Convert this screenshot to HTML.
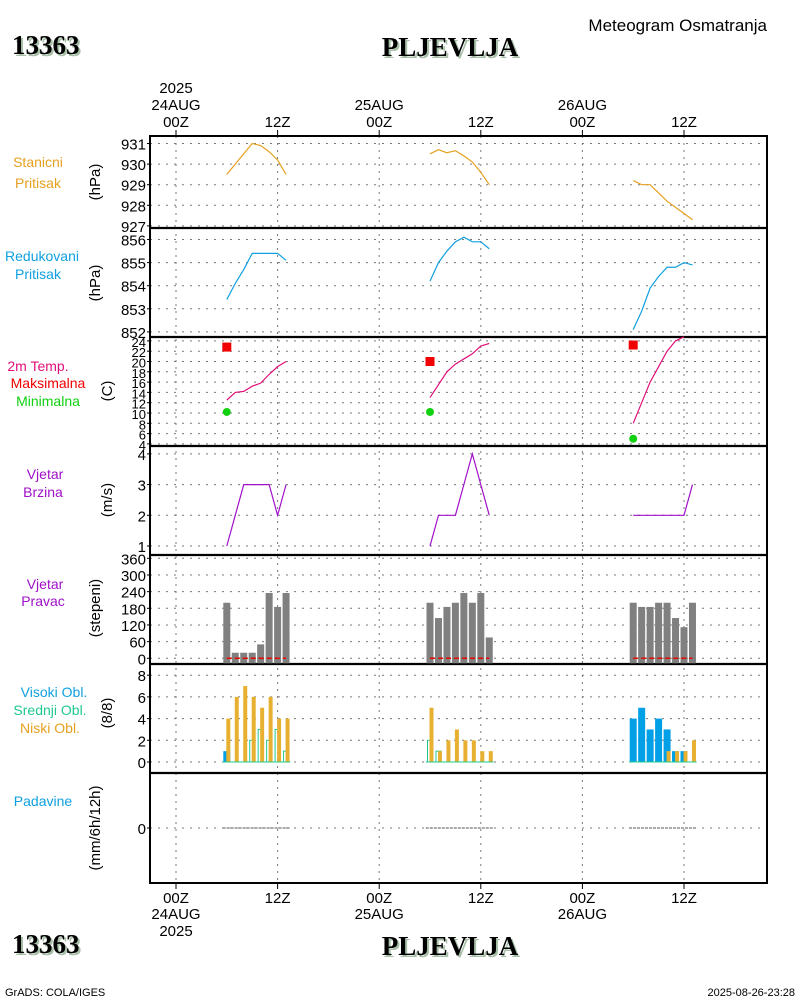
<!DOCTYPE html>
<html><head><meta charset="utf-8"><style>
body{margin:0;background:#fff}
svg{display:block}
text{font-family:"Liberation Sans",sans-serif}
text.serif{font-family:"Liberation Serif",serif}
</style></head><body>
<svg id="c" width="800" height="1000" xmlns="http://www.w3.org/2000/svg"></svg>
<script>
const hours1=[6,7,8,9,10,11,12,13], hours2=[30,31,32,33,34,35,36,37], hours3=[54,55,56,57,58,59,60,61];
const hrs=[hours1,hours2,hours3];
const presSt=[[929.5,930,930.5,931,930.9,930.6,930.2,929.5],[930.5,930.7,930.55,930.65,930.4,930.1,929.6,929],[929.2,929,929,928.6,928.2,927.9,927.6,927.3]];
const presRed=[[853.4,854.1,854.7,855.4,855.4,855.4,855.4,855.1],[854.2,855,855.5,855.9,856.1,855.9,855.9,855.6],[852.1,852.9,853.9,854.4,854.8,854.8,855,854.9]];
const temp=[[12.5,14,14.2,15.2,15.8,17.5,19,20],[13,15.5,18,19.5,20.5,21.5,23,23.5],[8,12,16,19,22,24,24.8]];
const tMax=[22.8,20,23.2], tMin=[10.2,10.2,5], tMinMaxHour=[6,30,54];
const wSpd=[[1,2,3,3,3,3,2,3],[1,2,2,2,3,4,3,2],[2,2,2,2,2,2,2,3]];
const wDir=[[200,20,20,20,50,235,185,235],[200,145,185,200,235,200,235,75],[200,185,185,200,200,145,112,200]];
const cHigh=[[1,0,0,0,0,0,0,0],[0,0,0,0,0,0,0,0],[4,5,3,4,3,1,1,0]];
const cMid=[[0,0,0,2,3,2,3,1],[2,1,0,0,0,0,0,0],[0,0,0,0,0,0,0,0]];
const cLow=[[4,6,7,6,5,6,4,4],[5,1,2,3,2,2,1,1],[0,0,0,0,1,1,1,2]];
const timeTicks=[0,12,24,36,48,60];
const tickHour=["00Z","12Z","00Z","12Z","00Z","12Z"];
const tickDay=["24AUG","","25AUG","","26AUG",""];

const S=document.getElementById('c'),NS='http://www.w3.org/2000/svg';
function el(t,a,p){const e=document.createElementNS(NS,t);for(const k in a)e.setAttribute(k,a[k]);(p||S).appendChild(e);return e;}
function tx(s,x,y,o,p){const e=el('text',Object.assign({x:x,y:y,'font-size':14},o||{}),p);e.textContent=s;return e;}
const X0=150,X1=767;
const xs=h=>176+h*(684-176)/60;
function ys(v,p){return p.y0-(v-p.v0)*p.k;}
const P={
 st:{top:136,bot:228,v0:931,y0:143.5,k:20.6,ticks:[931,930,929,928,927]},
 rd:{top:228,bot:337,v0:856,y0:239.5,k:23.1,ticks:[856,855,854,853,852]},
 tp:{top:337,bot:446,v0:10,y0:413,k:5.15,ticks:[24,22,20,18,16,14,12,10,8,6,4]},
 ws:{top:446,bot:555,v0:1,y0:546,k:30.7,ticks:[4,3,2,1]},
 wd:{top:555,bot:664,v0:0,y0:658.3,k:100/360,ticks:[360,300,240,180,120,60,0]},
 cl:{top:664,bot:773,v0:0,y0:762,k:10.85,ticks:[8,6,4,2,0]},
 pr:{top:773,bot:883,v0:0,y0:828,k:10,ticks:[0]}
};
const grid=el('g',{});
timeTicks.forEach(h=>{el('line',{x1:xs(h),x2:xs(h),y1:136,y2:883,stroke:'#777','stroke-dasharray':'2,5'},grid);});
const names={st:'station-pressure-panel',rd:'reduced-pressure-panel',tp:'temperature-panel',ws:'wind-speed-panel',wd:'wind-direction-panel',cl:'cloud-panel',pr:'precipitation-panel'};
for(const key in P){const p=P[key];
 const g=el('g',{});
 p.ticks.forEach(v=>{const y=ys(v,p);
  if(y>p.top+1&&y<p.bot-1)el('line',{x1:X0,x2:X1,y1:y,y2:y,stroke:'#777','stroke-dasharray':'2,6'},g);
  tx(String(v),146,y+6,{'text-anchor':'end','font-size':key=='tp'?13:15,fill:'#000'},g);
  el('line',{x1:X0-3,x2:X0,y1:y,y2:y,stroke:'#000'},g);
 });
}
el('rect',{x:X0,y:136,width:X1-X0,height:747,fill:'none',stroke:'#000','stroke-width':2,});
[228,337,446,555,664,773].forEach(y=>el('line',{x1:X0,x2:X1,y1:y,y2:y,stroke:'#000','stroke-width':2.2}));
function line(vals,hs,p,col,name){const pts=vals.map((v,i)=>xs(hs[i])+','+ys(v,p)).join(' ');const e=el('polyline',{points:pts,fill:'none',stroke:col,'stroke-width':1.2});}
for(let d=0;d<3;d++){
 line(presSt[d],hrs[d],P.st,'#e6a020','station-pressure-line');
 line(presRed[d],hrs[d],P.rd,'#10a0e0','reduced-pressure-line');
 line(temp[d],hrs[d],P.tp,'#e0107a','temperature-line');
 line(wSpd[d],hrs[d],P.ws,'#a010c8','wind-speed-line');
 const mx=el('rect',{x:xs(tMinMaxHour[d])-4.5,y:ys(tMax[d],P.tp)-4.5,width:9,height:9,fill:'#f00000'});
 
 const mn=el('circle',{cx:xs(tMinMaxHour[d]),cy:ys(tMin[d],P.tp),r:4,fill:'#10d010'});
 
 hrs[d].forEach((h,i)=>{const x=xs(h);
  const b=el('rect',{x:x-3.5,y:ys(wDir[d][i],P.wd),width:7,height:P.wd.y0-ys(wDir[d][i],P.wd)+5,fill:'#808080'});
  
  if(cHigh[d][i]>0){const r=el('rect',{x:x-3.5,y:ys(cHigh[d][i],P.cl),width:7,height:P.cl.y0-ys(cHigh[d][i],P.cl),fill:'#00a0e6'});}
  if(cMid[d][i]>0){const r=el('rect',{x:x-2.5,y:ys(cMid[d][i],P.cl),width:5,height:P.cl.y0-ys(cMid[d][i],P.cl),fill:'none',stroke:'#20c890','stroke-width':1});}
  if(cLow[d][i]>0){const r=el('rect',{x:x-0.5,y:ys(cLow[d][i],P.cl),width:4,height:P.cl.y0-ys(cLow[d][i],P.cl),fill:'#e8b030'});}
 });
 const h0=hrs[d][0],h1=hrs[d][hrs[d].length-1];
 el('line',{x1:xs(h0),x2:xs(h1),y1:P.wd.y0,y2:P.wd.y0,stroke:'#f00000','stroke-width':1.5,'stroke-dasharray':'5,3'});
 el('line',{x1:xs(h0-0.5),x2:xs(h1+0.5),y1:P.cl.y0,y2:P.cl.y0,stroke:'#20c890','stroke-width':1});
 el('line',{x1:xs(h0-0.5),x2:xs(h1+0.5),y1:P.pr.y0,y2:P.pr.y0,stroke:'#555','stroke-width':1,'stroke-dasharray':'3,1'});
}
timeTicks.forEach((h,i)=>{const x=xs(h);
 el('line',{x1:x,x2:x,y1:130,y2:136,stroke:'#000'});el('line',{x1:x,x2:x,y1:883,y2:889,stroke:'#000'});
 tx(tickHour[i],x,127,{'text-anchor':'middle','font-size':15});
 tx(tickHour[i],x,903,{'text-anchor':'middle','font-size':15});
 if(tickDay[i]){tx(tickDay[i],x,110,{'text-anchor':'middle','font-size':15});tx(tickDay[i],x,919,{'text-anchor':'middle','font-size':15});}
});
tx('2025',xs(0),93,{'text-anchor':'middle','font-size':15});tx('2025',xs(0),936,{'text-anchor':'middle','font-size':15});
const L=[['Stanicni',38,167,'#e6a020'],['Pritisak',38,188,'#e6a020'],['Redukovani',42,261,'#10a0e0'],['Pritisak',38,279,'#10a0e0'],
['2m Temp.',38,371,'#e0107a'],['Maksimalna',48,388,'#f00000'],['Minimalna',48,406,'#10d010'],['Vjetar',45,479,'#a010c8'],['Brzina',43,497,'#a010c8'],
['Vjetar',45,589,'#a010c8'],['Pravac',43,606,'#a010c8'],['Visoki Obl.',54,697,'#10a0e0'],['Srednji Obl.',50,715,'#20c890'],['Niski Obl.',50,733,'#e6a020'],['Padavine',43,806,'#10a0e0']];
L.forEach(l=>{const t=tx(l[0],l[1],l[2],{'text-anchor':'middle','font-size':14,fill:l[3]});});
const U=[['(hPa)',100,182],['(hPa)',100,283],['(C)',112,391],['(m/s)',112,500],['(stepeni)',100,608],['(8/8)',112,713],['(mm/6h/12h)',100,828]];
U.forEach(u=>{const t=tx(u[0],u[1],u[2],{'text-anchor':'middle','font-size':15,transform:`rotate(-90 ${u[1]} ${u[2]})`});});
function title(s,x,y,anchor,name){const g=el('g',{});
 tx(s,x+2,y+2,{'text-anchor':anchor,'font-size':27,'font-weight':'bold','class':'serif',fill:'#a8c0a8'},g);
 tx(s,x,y,{'text-anchor':anchor,'font-size':27,'font-weight':'bold','class':'serif',fill:'#000'},g);}
title('13363',12,54,'start','station-id-top');title('PLJEVLJA',450,56,'middle','station-name-top');
title('13363',12,953,'start','station-id-bottom');title('PLJEVLJA',450,955,'middle','station-name-bottom');
tx('Meteogram Osmatranja',767,31,{'text-anchor':'end','font-size':17});
tx('GrADS: COLA/IGES',5,996,{'font-size':11});
tx('2025-08-26-23:28',795,996,{'text-anchor':'end','font-size':11});
</script>
</body></html>
